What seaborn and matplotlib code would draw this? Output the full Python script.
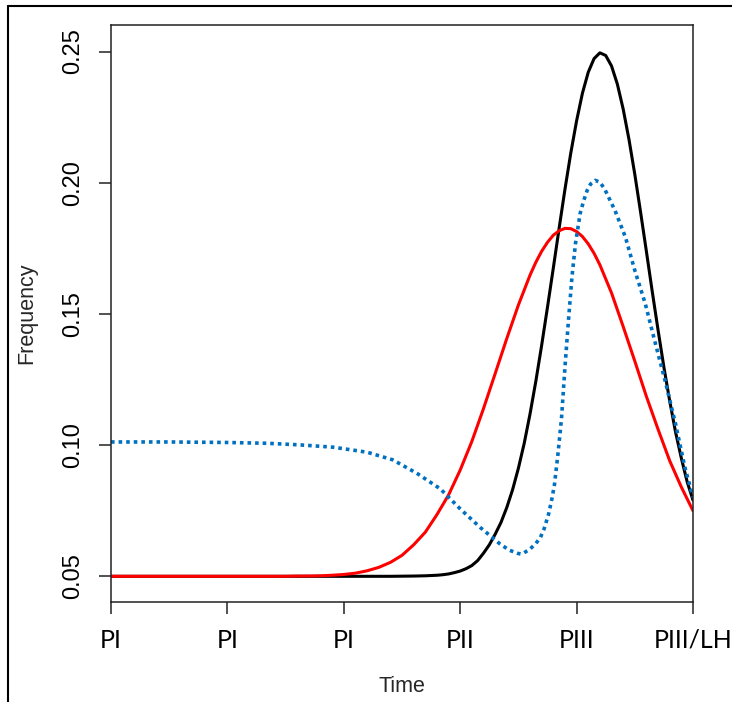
import matplotlib
matplotlib.use("Agg")
import matplotlib.pyplot as plt
import seaborn as sns
from matplotlib.lines import Line2D

# Values (x in stage units, 0..5)
stage_ticks = [0, 1, 2, 3, 4, 5]
stage_labels = ["PI", "PI", "PI", "PII", "PIII", "PIII/LH"]
freq_ticks = [0.05, 0.10, 0.15, 0.20, 0.25]

black_x = [0.0, 0.5, 1.0, 1.5, 2.0, 2.4, 2.6, 2.7, 2.8, 2.85, 2.9, 2.95, 3.0,
           3.05, 3.1, 3.15, 3.2, 3.25, 3.3, 3.35, 3.4, 3.45, 3.5, 3.55, 3.6,
           3.65, 3.7, 3.75, 3.8, 3.85, 3.9, 3.95, 4.0, 4.05, 4.1, 4.15, 4.2,
           4.25, 4.3, 4.35, 4.4, 4.45, 4.5, 4.55, 4.6, 4.65, 4.7, 4.75, 4.8,
           4.85, 4.9, 4.95, 5.0]
black_y = [0.0500, 0.0500, 0.0500, 0.0500, 0.0500, 0.0500, 0.0501, 0.0502,
           0.0504, 0.0506, 0.0509, 0.0514, 0.0520, 0.0529, 0.0541, 0.0560,
           0.0588, 0.0620, 0.0660, 0.0705, 0.0762, 0.0830, 0.0912, 0.1007,
           0.1119, 0.1244, 0.1381, 0.1526, 0.1675, 0.1827, 0.1975, 0.2113,
           0.2236, 0.2341, 0.2421, 0.2473, 0.2495, 0.2485, 0.2445, 0.2376,
           0.2281, 0.2165, 0.2032, 0.1887, 0.1737, 0.1585, 0.1438, 0.1297,
           0.1168, 0.1050, 0.0950, 0.0860, 0.0790]

red_x = [0.0, 0.5, 1.0, 1.5, 1.6, 1.7, 1.8, 1.9, 2.0, 2.1, 2.2, 2.3, 2.4, 2.5,
         2.6, 2.7, 2.8, 2.9, 3.0, 3.1, 3.2, 3.3, 3.4, 3.5, 3.6, 3.65, 3.7,
         3.75, 3.8, 3.85, 3.9, 3.95, 4.0, 4.05, 4.1, 4.15, 4.2, 4.3, 4.4, 4.5,
         4.6, 4.7, 4.8, 4.9, 5.0]
red_y = [0.0500, 0.0500, 0.0500, 0.0500, 0.0501, 0.0501, 0.0502, 0.0504,
         0.0507, 0.0512, 0.0521, 0.0534, 0.0553, 0.0580, 0.0620, 0.0668,
         0.0735, 0.0810, 0.0905, 0.1014, 0.1139, 0.1272, 0.1406, 0.1534,
         0.1648, 0.1697, 0.1739, 0.1773, 0.1800, 0.1817, 0.1826, 0.1825,
         0.1814, 0.1795, 0.1767, 0.1731, 0.1687, 0.1580, 0.1452, 0.1320,
         0.1185, 0.1060, 0.0940, 0.0840, 0.0750]

blue_x = [0.0, 0.5, 1.0, 1.34, 1.62, 1.91, 2.2, 2.42, 2.63, 2.83, 3.0, 3.17,
          3.34, 3.42, 3.49, 3.52, 3.55, 3.60, 3.65, 3.69, 3.72, 3.76, 3.79,
          3.81, 3.84, 3.87, 3.90, 3.93, 3.96, 3.99, 4.03, 4.06, 4.09, 4.12,
          4.16, 4.20, 4.24, 4.28, 4.33, 4.42, 4.50, 4.59, 4.67, 4.76, 4.85,
          4.93, 5.0]
blue_y = [0.1012, 0.1012, 0.1010, 0.1007, 0.1001, 0.0992, 0.0973, 0.0944,
          0.0892, 0.0833, 0.0757, 0.0687, 0.0624, 0.0600, 0.0588, 0.0585,
          0.0590, 0.0604, 0.0625, 0.0649, 0.0680, 0.0738, 0.0800, 0.0850,
          0.0967, 0.1100, 0.1297, 0.1475, 0.1640, 0.1767, 0.1882, 0.1930,
          0.1970, 0.1995, 0.2009, 0.2002, 0.1977, 0.1940, 0.1894, 0.1792,
          0.1666, 0.1539, 0.1399, 0.1246, 0.1081, 0.0916, 0.0801]

sns.set_theme(style="ticks")
plt.rcParams["font.family"] = ["Liberation Sans", "DejaVu Sans"]

W, H = 732, 702
fig = plt.figure(figsize=(W / 100, H / 100), dpi=100)
ax = fig.add_axes([111 / W, (H - 601.5) / H, 582 / W, 577 / H])

sns.lineplot(x=black_x, y=black_y, color="black", linewidth=2.2,
             solid_joinstyle="round", ax=ax)
sns.lineplot(x=red_x, y=red_y, color="#ff0000", linewidth=2.2,
             solid_joinstyle="round", ax=ax)
sns.lineplot(x=blue_x, y=blue_y, color="#0070c0", linewidth=2.6,
             linestyle=(0, (1, 1.1)), dash_capstyle="butt", ax=ax)

ax.set_xlim(0, 5)
ax.set_ylim(0.0404, 0.2603)

ax.set_xticks(stage_ticks)
ax.set_xticklabels(stage_labels, fontfamily="Lato", fontsize=18)
ax.set_yticks(freq_ticks)
ax.set_yticklabels([f"{v:.2f}" for v in freq_ticks], fontsize=17,
                   rotation=90, va="center")
ax.tick_params(axis="both", direction="out", length=8.5, width=1.1,
               color="#222222", labelcolor="black")
ax.tick_params(axis="x", pad=11)
ax.tick_params(axis="y", pad=11)

for sp in ax.spines.values():
    sp.set_linewidth(1.1)
    sp.set_color("#222222")

ax.set_xlabel("Time", fontsize=15.5)
ax.set_ylabel("Frequency", fontsize=15.5)
ax.xaxis.set_label_coords(0.5, (601.5 - 687) / 577)
ax.xaxis.label.set_va("center")
ax.yaxis.set_label_coords((27 - 111) / 582, 0.5)
ax.yaxis.label.set_va("center")

# outer border (only left and top edges visible)
lw = 1.5
fig.add_artist(Line2D([8 / W, 8 / W], [0, 1 - 6 / H], color="black",
                      linewidth=lw, transform=fig.transFigure))
fig.add_artist(Line2D([8 / W, 1], [1 - 6 / H, 1 - 6 / H], color="black",
                      linewidth=lw, transform=fig.transFigure))

fig.savefig("out.png", dpi=100)
